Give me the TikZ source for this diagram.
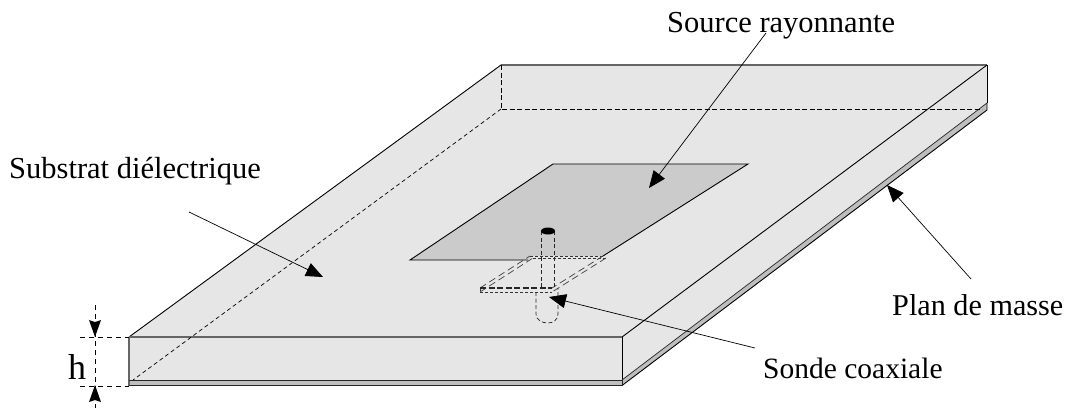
\documentclass[tikz,border=0pt]{standalone}
\usepackage{fontspec}
\setmainfont{Liberation Serif}
\usetikzlibrary{arrows.meta}
\definecolor{faceG}{HTML}{E6E6E6}
\definecolor{patchG}{HTML}{CBCBCB}
\definecolor{groundG}{HTML}{BEBEBE}
\definecolor{edgeG}{HTML}{666666}
\tikzset{
  lbl/.style={anchor=base west,inner sep=0pt,font=\fontsize{30.5}{32}\selectfont,text=black},
  callout/.style={draw=black,line width=0.7pt,-{Triangle[length=17pt,width=14pt]}},
  hidden/.style={draw=black,line width=0.7pt,dash pattern=on 5pt off 2.5pt},
  hiddenf/.style={draw=black!80,line width=0.7pt,dash pattern=on 3pt off 2pt},
  sidedash/.style={draw=black!75,line width=0.7pt,dash pattern=on 7pt off 4pt},
  probedash/.style={draw=black!85,line width=0.9pt,dash pattern=on 4pt off 2.5pt},
  dim/.style={draw=black,line width=0.8pt,dash pattern=on 5pt off 4pt},
  dimtip/.style={draw=none,fill=black}
}
\begin{document}
\begin{tikzpicture}[x=1pt,y=-1pt]
\useasboundingbox (0,0) rectangle (1068,410);
% corners
\coordinate (A) at (129,337); \coordinate (B) at (622,337);
\coordinate (C) at (987,65);  \coordinate (D) at (501,65);
\coordinate (E) at (129,380); \coordinate (F) at (622,380);
\coordinate (G) at (987,103); \coordinate (E2) at (129,385.5);
\coordinate (F2) at (622,385.5); \coordinate (G2) at (987,110);
\coordinate (D1) at (501,109); \coordinate (C1) at (982,109); \coordinate (E1) at (133,380);
% substrate
\fill[faceG] (A) -- (D) -- (C) -- (G) -- (F) -- (E) -- cycle;
\fill[groundG] (E) -- (F) -- (G) -- (G2) -- (F2) -- (E2) -- cycle;
\draw[black,line width=0.9pt] (A) -- (D);
\draw[edgeG,line width=1.8pt] (D) -- (C);
\draw[black,line width=0.9pt] (B) -- (C);
\draw[black,line width=1pt] (B) -- (F);
\draw[black,line width=1pt] (C) -- (G);
\draw[black!85,line width=0.7pt] (F) -- (G);
\draw[black,line width=0.9pt] (F2) -- (G2) -- (G);
\draw[edgeG,line width=1.8pt] (A) -- (B);
\draw[edgeG,line width=1.6pt] (A) -- (E2);
\draw[black!85,line width=0.9pt] (E) -- (F);
\draw[black!85,line width=0.9pt] (E2) -- (F2) -- (F);
\draw[hidden] (D) -- (D1) -- (C1);
\draw[hidden,dash pattern=on 4pt off 3pt] (D1) -- (E1);
% patch
\coordinate (P1) at (410,260); \coordinate (P2) at (528,260); \coordinate (P3) at (532,256);
\coordinate (P4) at (603,256); \coordinate (P5) at (748,164); \coordinate (P6) at (553,164);
\fill[patchG] (P1) -- (P2) -- (P3) -- (P4) -- (P5) -- (P6) -- cycle;
\draw[black,line width=0.9pt] (P4) -- (P5) -- (P6) -- (P1) -- (P2);
% feed strip
\coordinate (S1) at (530,256); \coordinate (S2) at (603,256);
\coordinate (S3) at (552,288); \coordinate (S4) at (480,288);
\coordinate (S5) at (480,292); \coordinate (S6) at (552,292);
\coordinate (S7) at (606,258); \coordinate (S8) at (533,258);
\draw[hiddenf] (S1) -- (S2);
\draw[hiddenf] (S8) -- (S7);
\draw[sidedash] (S2) -- (S3);
\draw[sidedash] (S7) -- (S6);
\draw[sidedash] (S4) -- (S1);
\draw[sidedash] (S5) -- (S8);
\draw[hiddenf] (S5) -- (S6);
\draw[hiddenf] (S4) -- (S5);
\draw[black!85,dash pattern=on 6pt off 2.5pt,line width=1.1pt] (S4) -- (S3);
% probe
\coordinate (T1) at (541.5,231); \coordinate (T2) at (554.5,231);
\coordinate (T3) at (541.5,288); \coordinate (T4) at (554.5,288);
\coordinate (L1) at (536,292); \coordinate (L2) at (558,288);
\coordinate (L3) at (536,314); \coordinate (L4) at (558,314);
\draw[probedash] (T1) -- (T3);
\draw[probedash] (T2) -- (T4);
\draw[probedash,line width=0.7pt] (L1) -- (L3) .. controls (536,320) and (542,323) .. (548,323) .. controls (553,323) and (558,320) .. (L4) -- (L2);
\fill[black] (548,231) ellipse (7pt and 3.5pt);
% labels
\node[lbl] (source) at (667,32) {Source rayonnante};
\node[lbl] (substrat) at (9,178) {Substrat diélectrique};
\node[lbl,font=\fontsize{30.2}{32}\selectfont] (plan) at (892,315) {Plan de masse};
\node[lbl,font=\fontsize{29.5}{32}\selectfont] (sonde) at (763,378) {Sonde coaxiale};
\node[lbl,font=\fontsize{36}{38}\selectfont] (hlabel) at (68,379) {h};
% callouts
\coordinate (srcS) at (766,33);  \coordinate (srcT) at (649,188);
\coordinate (subS) at (189,212); \coordinate (subT) at (323,277);
\coordinate (plaS) at (971,279); \coordinate (plaT) at (887,185);
\coordinate (sonS) at (755,348); \coordinate (sonT) at (549,297);
\draw[callout] (srcS) -- (srcT);
\draw[callout] (subS) -- (subT);
\draw[callout] (plaS) -- (plaT);
\draw[callout] (sonS) -- (sonT);
% dimension h
\coordinate (h0) at (95,305); \coordinate (h1) at (95,337);
\coordinate (h2) at (95,385); \coordinate (h3) at (95,408);
\coordinate (w1) at (80,337); \coordinate (w2) at (80,386);
\coordinate (a1) at (129,337); \coordinate (a2) at (129,386);
\draw[dim] (h0) -- (h3);
\draw[dim] (w1) -- (a1);
\draw[dim] (w2) -- (a2);
\fill[dimtip] (h1) -- (89,320) -- (95,322) -- (101,320) -- cycle;
\fill[dimtip] (h2) -- (89,402) -- (95,400) -- (101,402) -- cycle;
\end{tikzpicture}
\end{document}
